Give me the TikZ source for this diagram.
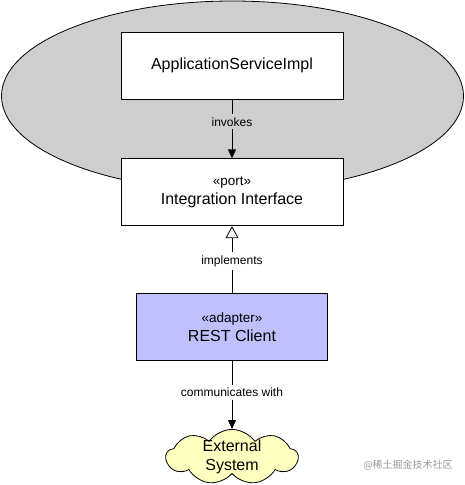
\documentclass[tikz,border=0pt]{standalone}
\usepackage{fontspec}
\setmainfont{Liberation Sans}
\newfontfamily\cjk{Noto Sans CJK SC}
\usetikzlibrary{positioning,arrows.meta,shapes.geometric,shapes.symbols}
\definecolor{hexc}{RGB}{206,206,206}
\definecolor{adapterc}{RGB}{192,192,255}
\definecolor{cloudc}{RGB}{255,255,192}
\newcommand{\stereo}[1]{{\fontsize{13.5}{15}\selectfont\guillemotleft #1\guillemotright}}
\tikzset{
  classbox/.style  = {draw=black, line width=0.8pt, fill=white, minimum width=222pt,
                      minimum height=67pt, align=center, inner sep=2pt,
                      font=\fontsize{16}{19.5}\selectfont},
  adapterbox/.style= {classbox, fill=adapterc, minimum width=191pt},
  extsys/.style    = {cloud, cloud puffs=9, cloud puff arc=110, cloud ignores aspect,
                      draw=black, line width=0.8pt, fill=cloudc,
                      minimum width=132pt, minimum height=55pt,
                      inner sep=-4pt, align=center, font=\fontsize{16}{19}\selectfont},
  lbl/.style       = {font=\fontsize{12}{14}\selectfont, inner sep=3pt},
  uses/.style      = {-{Triangle[length=9pt,width=8pt]}, line width=0.8pt},
  realizes/.style  = {-{Triangle[open,length=12pt,width=13pt]}, line width=0.8pt},
}

\begin{document}
\begin{tikzpicture}[x=1pt, y=-1pt, node distance=59pt]
\useasboundingbox (0,0) rectangle (465,485);

% --- hexagon (application core) ---------------------------------------
\node[ellipse, draw=black, line width=0.8pt, fill=hexc, minimum width=462pt,
      minimum height=190pt, inner sep=0pt] (core) at (232.5,96) {};

% --- classes ------------------------------------------------------------
\node[classbox] (app) at (232,65.5) {ApplicationServiceImpl};
\node[classbox, below=59pt of app] (port) {\stereo{port}\\Integration Interface};
\node[adapterbox, below=67pt of port] (rest) {\stereo{adapter}\\REST Client};
\node[extsys, below=68pt of rest] (ext) {External\\System};

% --- relations ----------------------------------------------------------
\draw[uses] (app) -- node[lbl, fill=hexc, pos=0.38] {invokes} (port);
\draw[realizes] (rest) -- node[lbl, fill=white, pos=0.48] {implements} (port);
\draw[uses] (rest) -- node[lbl, fill=white, pos=0.46] {communicates with} (ext);

% watermark
\node[text=black!40, font=\cjk\fontsize{10}{12}\selectfont] (mark) at (408,465) {@稀土掘金技术社区};

\end{tikzpicture}
\end{document}
